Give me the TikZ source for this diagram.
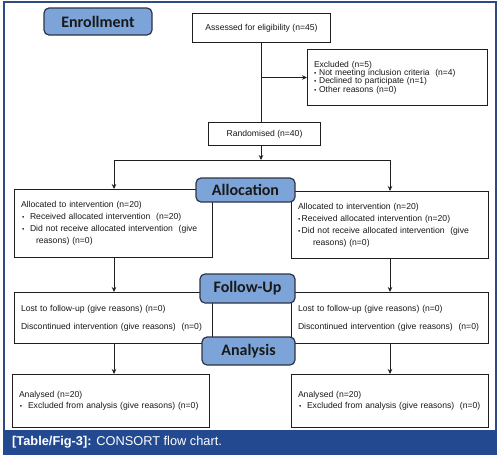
\documentclass[tikz,border=0pt]{standalone}
\usepackage{fontspec}
\setmainfont{Liberation Sans}
\newfontfamily\stagefont{Carlito}
\usetikzlibrary{arrows.meta, positioning}
\definecolor{stagefill}{HTML}{7CA4D8}
\definecolor{stageline}{HTML}{2E3447}
\definecolor{framecol}{HTML}{2E4C80}
\definecolor{captionbar}{HTML}{234A91}
\definecolor{boxline}{HTML}{1E1E1E}
\newcommand{\bul}{{\fontsize{6.5}{6.5}\selectfont\textbullet}}

\begin{document}
\begin{tikzpicture}[x=1pt, y=-1pt,
  stage/.style={draw=stageline, line width=1.2pt, fill=stagefill, rounded corners=5pt, inner sep=0pt, text=black!90, font=\stagefont\bfseries\fontsize{16}{16}\selectfont},
  infobox/.style={draw=boxline, line width=1pt, fill=white, anchor=north west, align=left, inner xsep=6.5pt, inner ysep=0pt, text=black!90, font=\fontsize{8.6}{12}\selectfont},
  midbox/.style={draw=boxline, line width=1pt, fill=white, anchor=north west, align=center, inner sep=0pt, text=black!90, font=\fontsize{8.6}{10}\selectfont},
  arr/.style={-{Stealth[length=5pt, width=4.5pt]}, line width=1pt, boxline},
  conn/.style={line width=1pt, boxline},
]
\useasboundingbox (0,0) rectangle (500,458);

% frame and caption bar
\draw[framecol, line width=1.5pt] (4,430) -- (4,2) -- (496,2) -- (496,430);
\fill[captionbar] (3,430) rectangle (497,455);
\node[anchor=west, text=white, inner sep=0pt, font=\fontsize{12.8}{14}\selectfont] (caption) at (12,442.5) {\textbf{[Table/Fig-3]:} CONSORT flow chart.};

\node[midbox, minimum width=138pt, minimum height=29pt] (assess) at (192,13) {Assessed for eligibility (n=45)};
\node[infobox, text width=167pt, minimum height=56pt, font=\fontsize{8.5}{8.3}\selectfont] (excl) at (307,49)
  {Excluded (n=5)\\
   \bul\ Not meeting inclusion criteria\ \ (n=4)\\
   \bul\ Declined to participate (n=1)\\
   \bul\ Other reasons (n=0)};
\node[midbox, minimum width=112pt, minimum height=23pt] (rand) at (208,122) {Randomised (n=40)};

\node[infobox, text width=185pt, minimum height=68pt] (allocL) at (14,189)
  {Allocated to intervention (n=20)\\
   \hspace*{1pt}\bul\ \ Received allocated intervention\ \ (n=20)\\
   \hspace*{1pt}\bul\ \ Did not receive allocated intervention\ \ (give\\
   \hspace*{15pt}reasons) (n=0)};
\node[infobox, text width=184pt, minimum height=67pt] (allocR) at (291,191)
  {Allocated to intervention (n=20)\\
   \bul\,Received\ allocated intervention (n=20)\\
   \bul\,Did not receive\ allocated intervention\ \ (give\\
   \hspace*{15pt}reasons) (n=0)};

\node[infobox, text width=185pt, minimum height=51pt] (followL) at (14,292)
  {Lost to follow-up (give reasons) (n=0)\\[6pt]
   Discontinued intervention (give reasons)\ \ (n=0)};
\node[infobox, text width=184pt, minimum height=51pt] (followR) at (291,292)
  {Lost to follow-up (give reasons) (n=0)\\[6pt]
   Discontinued intervention (give reasons)\ \ (n=0)};

\node[infobox, text width=184pt, minimum height=53pt, font=\fontsize{8.6}{10.5}\selectfont] (analL) at (12,374)
  {Analysed (n=20)\\
   \hspace*{1pt}\bul\ \ Excluded from analysis (give reasons) (n=0)};
\node[infobox, text width=184pt, minimum height=53pt, font=\fontsize{8.6}{10.5}\selectfont] (analR) at (291,374)
  {Analysed (n=20)\\
   \hspace*{1pt}\bul\ \ Excluded from analysis (give reasons)\ \ (n=0)};

% stage labels sit on top of the boxes
\node[stage, minimum width=108pt, minimum height=27pt] (enroll) at (98,21.5) {Enrollment};
\node[stage, minimum width=99pt, minimum height=24pt] (alloc) at (245.5,190) {Allocation};
\node[stage, minimum width=95pt, minimum height=29pt] (follow) at (247.5,288.5) {Follow-Up};
\node[stage, minimum width=93pt, minimum height=28pt] (anal) at (248.5,351) {Analysis};

\coordinate (split) at (261,160);
\coordinate (splitL) at (114,160);
\coordinate (splitR) at (390,160);

\draw[conn] (assess.south) -- (assess.south |- rand.north);
\draw[arr] (assess.south |- excl.west) -- (excl.west);
\draw[arr] (split |- rand.south) -- (split);
\draw[conn] (splitL) -- (splitR);

\foreach \c/\a/\b in {splitL/splitL/allocL, splitR/splitR/allocR}
  \draw[arr] (\a) -- (\c |- \b.north);
\foreach \c/\a/\b in {splitL/allocL/followL, splitR/allocR/followR, splitL/followL/analL, splitR/followR/analR}
  \draw[arr] (\c |- \a.south) -- (\c |- \b.north);

\end{tikzpicture}
\end{document}
